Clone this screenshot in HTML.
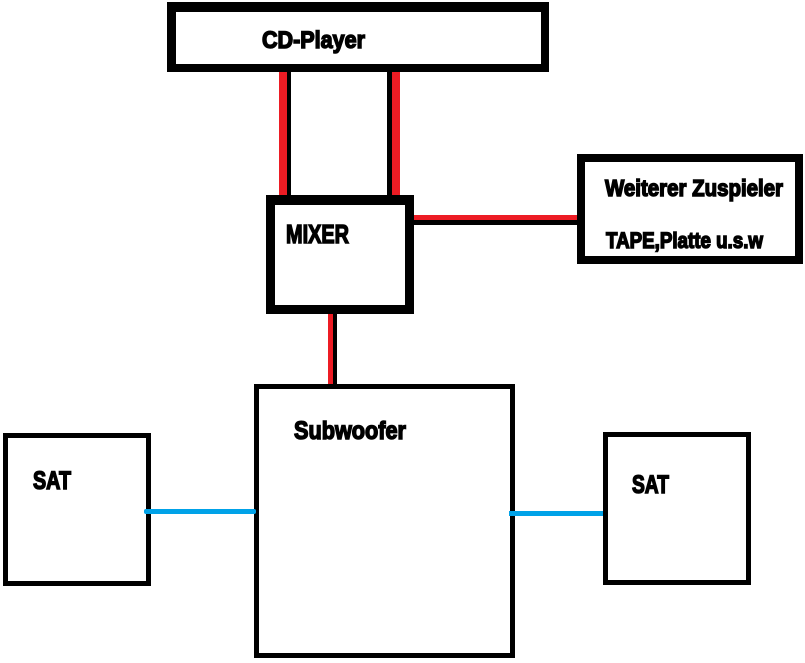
<!DOCTYPE html>
<html>
<head>
<meta charset="utf-8">
<style>
html,body{margin:0;padding:0;background:#fff;width:805px;height:663px;overflow:hidden}
svg{display:block}
text{font-family:"Liberation Sans",sans-serif;font-weight:bold;fill:#000;stroke:#000;stroke-width:1.5}
</style>
</head>
<body>
<svg width="805" height="663" viewBox="0 0 805 663" xmlns="http://www.w3.org/2000/svg">
<rect width="805" height="663" fill="#fff"/>
<!-- connectors -->
<rect x="279" y="70" width="8" height="128" fill="#ed1c24"/>
<rect x="287" y="70" width="4" height="128" fill="#000"/>
<rect x="387" y="70" width="5" height="128" fill="#000"/>
<rect x="392" y="70" width="8" height="128" fill="#ed1c24"/>
<rect x="412" y="215" width="168" height="5" fill="#ed1c24"/>
<rect x="412" y="220" width="168" height="5" fill="#000"/>
<rect x="328" y="311" width="5" height="76" fill="#ed1c24"/>
<rect x="333" y="311" width="4" height="75" fill="#000"/>
<!-- CD player -->
<path fill="#000" fill-rule="evenodd" d="M167 2H549V72H167ZM176 12V64H541V12Z"/>
<!-- Mixer -->
<path fill="#000" fill-rule="evenodd" d="M266 195H414V314H266ZM275 205V305H405V205Z"/>
<!-- Right source -->
<path fill="#000" fill-rule="evenodd" d="M577 154H803V264H577ZM585 162V256H795V162Z"/>
<!-- Subwoofer -->
<path fill="#000" fill-rule="evenodd" d="M254 384H515V658H254ZM259 389V653H510V389Z"/>
<!-- SAT boxes -->
<path fill="#000" fill-rule="evenodd" d="M3 433H151V586H3ZM8 438V581H146V438Z"/>
<path fill="#000" fill-rule="evenodd" d="M603 432H751V585H603ZM608 437V580H746V437Z"/>
<!-- blue connectors -->
<rect x="144" y="509" width="112" height="5" rx="2" fill="#00a2e8"/>
<rect x="509" y="511" width="94" height="5" fill="#00a2e8"/>
<!-- labels -->
<text x="262" y="48" font-size="24" textLength="103" lengthAdjust="spacingAndGlyphs">CD-Player</text>
<text x="286" y="243" font-size="26" textLength="63" lengthAdjust="spacingAndGlyphs">MIXER</text>
<text x="605" y="196" font-size="23" textLength="178" lengthAdjust="spacingAndGlyphs">Weiterer Zuspieler</text>
<text x="606" y="248" font-size="22" textLength="157" lengthAdjust="spacingAndGlyphs">TAPE,Platte u.s.w</text>
<text x="294" y="439" font-size="25" textLength="112" lengthAdjust="spacingAndGlyphs">Subwoofer</text>
<text x="33" y="489" font-size="25" textLength="38" lengthAdjust="spacingAndGlyphs">SAT</text>
<text x="632" y="493" font-size="25" textLength="37" lengthAdjust="spacingAndGlyphs">SAT</text>
</svg>
</body>
</html>
